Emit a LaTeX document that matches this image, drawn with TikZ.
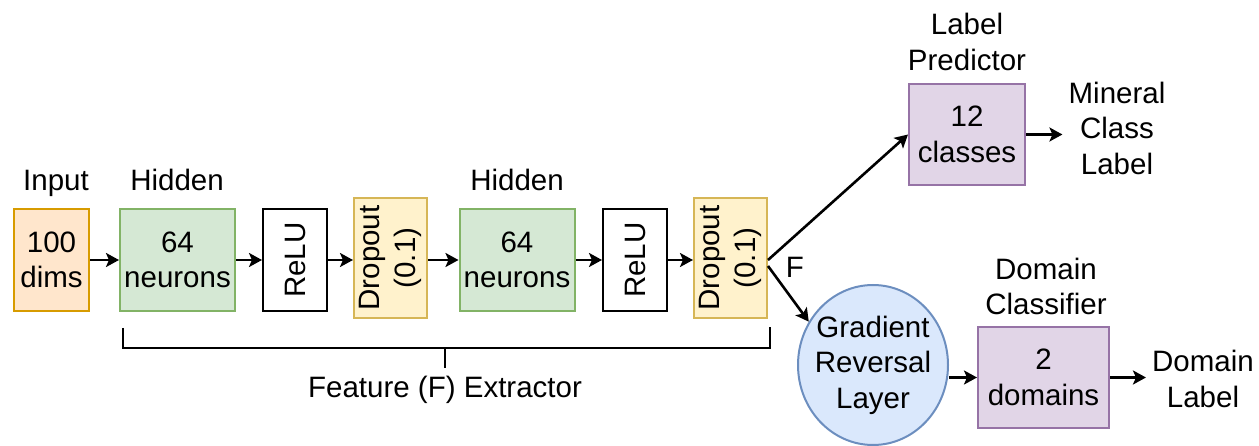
\documentclass[tikz,border=0pt]{standalone}
\usepackage{fontspec}
\setmainfont{Liberation Sans}
\usetikzlibrary{arrows.meta,shapes.geometric}
\definecolor{orfill}{HTML}{FFE6CC}\definecolor{ordraw}{HTML}{D79B00}
\definecolor{grfill}{HTML}{D5E8D4}\definecolor{grdraw}{HTML}{82B366}
\definecolor{yefill}{HTML}{FFF2CC}\definecolor{yedraw}{HTML}{D6B656}
\definecolor{pufill}{HTML}{E1D5E7}\definecolor{pudraw}{HTML}{9673A6}
\definecolor{blfill}{HTML}{DAE8FC}\definecolor{bldraw}{HTML}{6C8EBF}
\begin{document}
\begin{tikzpicture}[x=1pt,y=-1pt,
  every node/.style={font=\fontsize{29.5}{35.5}\selectfont, align=center},
  layer/.style={draw, line width=2pt, inner sep=0pt},
  inbox/.style={layer, fill=orfill, draw=ordraw, minimum width=75pt, minimum height=102pt},
  hidbox/.style={layer, fill=grfill, draw=grdraw, minimum width=115pt, minimum height=102pt},
  relubox/.style={layer, fill=white, draw=black, minimum width=64pt, minimum height=102pt},
  dropbox/.style={layer, fill=yefill, draw=yedraw, minimum width=73pt, minimum height=120pt},
  headbox/.style={layer, fill=pufill, draw=pudraw, minimum height=101pt},
  caption/.style={inner sep=6pt},
  flow/.style={line width=2.6pt, -{Stealth[length=13pt,width=14pt,inset=3pt]}},
  brace/.style={line width=2.6pt}]
\useasboundingbox (0,0) rectangle (1259,446);

% feature extractor
\node[inbox]   (in) at (51.5,260) {100\\dims};
\node[hidbox]  (h1) at (177.5,260) {64\\neurons};
\node[relubox] (r1) at (295,260) {};
\node[rotate=90] (r1t) at (r1) {ReLU};
\node[dropbox] (d1) at (390.5,258) {};
\node[rotate=90] (d1t) at (d1) {Dropout\\(0.1)};
\node[hidbox]  (h2) at (517,260) {64\\neurons};
\node[relubox] (r2) at (635,260) {};
\node[rotate=90] (r2t) at (r2) {ReLU};
\node[dropbox] (d2) at (730.5,258) {};
\node[rotate=90] (d2t) at (d2) {Dropout\\(0.1)};

\node[anchor=base, inner sep=0pt] (inl) at (56,191) {Input};
\node[anchor=base, inner sep=0pt] (h1l) at (177,191) {Hidden};
\node[anchor=base, inner sep=0pt] (h2l) at (517,191) {Hidden};

\draw[flow] (in.east) -- (h1.west);
\draw[flow] (h1.east) -- (r1.west);
\draw[flow] (r1.east) -- (r1.east -| d1.west);
\draw[flow] (r1.east -| d1.east) -- (h2.west);
\draw[flow] (h2.east) -- (r2.west);
\draw[flow] (r2.east) -- (r2.east -| d2.west);

% bracket under the extractor
\coordinate (bl) at (123,328);
\coordinate (br) at (770,327);
\coordinate (bt) at (445,348);
\draw[brace] (bl) -- (bl |- bt) -- (br |- bt) -- (br);
\draw[brace] (bt) -- ++(0,20);
\node[inner sep=0pt] (fe) at (445,390) {Feature (F) Extractor};

% label predictor branch
\node[headbox, minimum width=116pt] (lp) at (967,134.5) {12\\classes};
\node[inner sep=0pt] (lpl) at (967,42) {Label\\Predictor};
\node[caption] (mcl) at (1117,128) {Mineral\\Class\\Label};
\draw[flow] (lp.east) -- (lp.east -| mcl.west);

% domain classifier branch
\node[ellipse, layer, fill=blfill, draw=bldraw, minimum width=150pt, minimum height=160pt] (grl) at (873,365) {};
\node[inner sep=0pt] (grlt) at (grl) {Gradient\\Reversal\\Layer};
\node[headbox, minimum width=131pt] (dc) at (1043.5,377.5) {2\\domains};
\node[inner sep=0pt] (dcl) at (1046,286.5) {Domain\\Classifier};
\node[caption] (dl) at (1203,379) {Domain\\Label};
\draw[flow] (grl.east |- dc.west) -- (dc.west);
\draw[flow] (dc.east) -- (dc.east -| dl.west);

% split of the features F
\coordinate (s1) at (768,260);
\coordinate (s2) at (768,266);
\draw[flow] (s1) -- (lp.west);
\draw[flow] (s2) -- (grl.146);
\node[inner sep=0pt] (fl) at (795,267) {F};
\end{tikzpicture}
\end{document}
